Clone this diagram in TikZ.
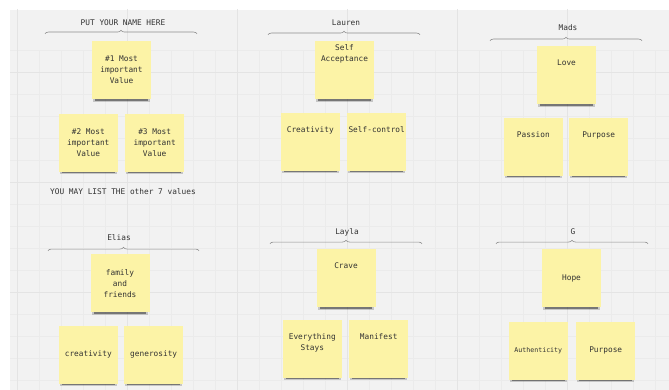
\documentclass[tikz,border=0pt]{standalone}
\usepackage{fontspec}
\setmonofont{DejaVu Sans Mono}
\usepackage{tikz}
\usetikzlibrary{positioning,shadows,decorations.pathreplacing}

\definecolor{boardbg}{RGB}{242,242,242}
\definecolor{gridminor}{RGB}{235,235,235}
\definecolor{gridmajor}{RGB}{228,228,228}
\definecolor{notefill}{RGB}{252,243,166}
\definecolor{inktext}{RGB}{50,50,50}
\definecolor{bracegray}{RGB}{140,140,140}

\begin{document}
\begin{tikzpicture}[x=1pt, y=-1pt,
    note/.style={rectangle, fill=notefill, minimum width=59pt, minimum height=58pt,
                 inner sep=0pt, align=center, text=inktext,
                 font=\ttfamily\fontsize{7.8}{11}\selectfont,
                 drop shadow={shadow xshift=0pt, shadow yshift=-4pt, shadow scale=0.96,
                              fill=black, opacity=0.18},
                 drop shadow={shadow xshift=0pt, shadow yshift=-5.5pt, shadow scale=0.89,
                              fill=black, opacity=0.4}},
    notetop/.style={note, text height=19.5pt, text depth=38.5pt},
    title/.style={text=inktext, font=\ttfamily\fontsize{7.8}{9}\selectfont, inner sep=1pt},
    brace/.style={decorate, decoration={brace, amplitude=3.5pt}, draw=bracegray, line width=0.6pt}]
    \useasboundingbox (0,0) rectangle (669,390);
    % board with grid
    \fill[white] (0,0) rectangle (669,390);
    \fill[boardbg] (10,10) rectangle (669,390);
    \begin{scope}
        \clip (10,10) rectangle (669,390);
        \draw[gridminor, line width=0.4pt, xshift=17pt, yshift=-72pt] (-22,-22) grid[step=22pt] (660,330);
        \draw[gridmajor, line width=0.6pt, xshift=17pt, yshift=-72pt] (-110,-110) grid[step=110pt] (660,330);
    \end{scope}

    % top row
    \node[title] (you) at (123,23) {PUT YOUR NAME HERE};
    \coordinate (youL) at (45,33.8);
    \coordinate (youR) at (197,33.8);
    \node[note, anchor=north] (you1) at (121.5,41) {\#1 Most\\important\\Value};
    \node[note, below left=14pt and 3.5pt of you1.south] (you2) {\#2 Most\\important\\Value};
    \node[note, below right=14pt and 3.5pt of you1.south] (you3) {\#3 Most\\important\\Value};
    \node[title] (rest) at (123,192) {YOU MAY LIST THE other 7 values};

    \node[title] (lauren) at (346,23) {Lauren};
    \coordinate (laurenL) at (268,34.8);
    \coordinate (laurenR) at (420,34.8);
    \node[note, anchor=north, text height=20pt, text depth=38pt] (lauren1) at (344.5,41) {Self\\Acceptance};
    \node[notetop, below left=13pt and 4.5pt of lauren1.south] (lauren2) {Creativity};
    \node[notetop, below right=13pt and 2.5pt of lauren1.south] (lauren3) {Self-control};

    \node[title] (mads) at (568,28) {Mads};
    \coordinate (madsL) at (490,40.8);
    \coordinate (madsR) at (642,40.8);
    \node[notetop, anchor=north] (mads1) at (566.5,46) {Love};
    \node[notetop, below left=13pt and 3.5pt of mads1.south] (mads2) {Passion};
    \node[notetop, below right=13pt and 2.5pt of mads1.south] (mads3) {Purpose};

    % bottom row
    \node[title] (elias) at (119,238) {Elias};
    \coordinate (eliasL) at (48,250.8);
    \coordinate (eliasR) at (199,250.8);
    \node[note, anchor=north] (elias1) at (120,254) {family\\and\\friends};
    \node[note, below left=13pt and 2pt of elias1.south] (elias2) {creativity};
    \node[note, below right=13pt and 4pt of elias1.south] (elias3) {generosity};

    \node[title] (layla) at (347,232) {Layla};
    \coordinate (laylaL) at (270,243.8);
    \coordinate (laylaR) at (422,243.8);
    \node[notetop, anchor=north] (layla1) at (346,249) {Crave};
    \node[note, below left=12pt and 4pt of layla1.south, text height=30.5pt, text depth=27.5pt] (layla2) {Everything\\Stays};
    \node[notetop, below right=12pt and 3pt of layla1.south] (layla3) {Manifest};

    \node[title] (g) at (573,232) {G};
    \coordinate (gL) at (496,243.8);
    \coordinate (gR) at (648,243.8);
    \node[note, anchor=north] (g1) at (571.5,249) {Hope};
    \node[note, below left=14pt and 3.5pt of g1.south, font=\ttfamily\fontsize{6.6}{9}\selectfont] (g2) {Authenticity};
    \node[note, below right=14pt and 4.5pt of g1.south] (g3) {Purpose};

    % braces
    \draw[brace] (youL) -- (youR);
    \draw[brace] (laurenL) -- (laurenR);
    \draw[brace] (madsL) -- (madsR);
    \draw[brace] (eliasL) -- (eliasR);
    \draw[brace] (laylaL) -- (laylaR);
    \draw[brace] (gL) -- (gR);
\end{tikzpicture}
\end{document}
